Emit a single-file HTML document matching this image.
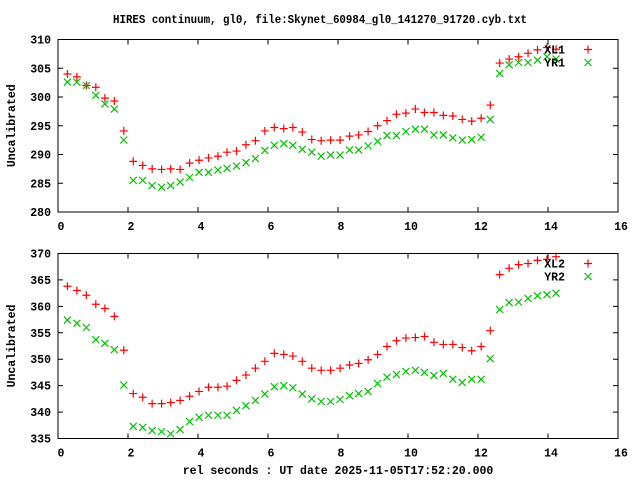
<!DOCTYPE html>
<html><head><meta charset="utf-8"><style>
body{margin:0;background:#fff}
svg{display:block}
text{font-family:"Liberation Mono",monospace;font-weight:bold;font-size:11.5px;fill:#000}
</style></head><body>
<svg id="chart" width="640" height="480" viewBox="0 0 640 480" xmlns="http://www.w3.org/2000/svg">
<text x="320" y="23" text-anchor="middle" textLength="414" lengthAdjust="spacingAndGlyphs">HIRES continuum, gl0, file:Skynet_60984_gl0_141270_91720.cyb.txt</text>
<text x="338" y="474" text-anchor="middle">rel seconds : UT date 2025-11-05T17:52:20.000</text>
</svg>
<script>
const times=[0.27,0.54,0.81,1.08,1.34,1.61,1.88,2.15,2.42,2.69,2.96,3.22,3.49,3.76,4.03,4.30,4.57,4.83,5.10,5.37,5.64,5.91,6.18,6.45,6.71,6.98,7.25,7.52,7.79,8.06,8.33,8.59,8.86,9.13,9.40,9.67,9.94,10.21,10.47,10.74,11.01,11.28,11.55,11.82,12.09,12.35,12.62,12.89,13.16,13.43,13.70,13.97,14.23];
const xl1=[304.0,303.5,302.0,301.7,299.8,299.3,294.1,288.8,288.1,287.5,287.4,287.5,287.4,288.5,289.0,289.4,289.7,290.4,290.6,291.7,292.4,294.1,294.7,294.5,294.7,293.9,292.6,292.4,292.5,292.5,293.2,293.4,294.0,295.0,295.9,297.0,297.2,297.9,297.3,297.3,296.8,296.7,296.1,295.8,296.3,298.6,305.9,306.6,307.0,307.6,308.2,308.6,308.3];
const yr1=[302.6,302.6,302.0,300.3,298.8,297.9,292.5,285.5,285.5,284.6,284.3,284.6,285.2,286.0,286.9,286.9,287.3,287.6,288.0,288.6,289.3,290.7,291.6,291.9,291.6,290.9,290.4,289.7,289.9,289.9,290.8,290.8,291.5,292.3,293.3,293.3,294.0,294.4,294.4,293.4,293.4,292.9,292.5,292.6,293.0,296.1,304.1,305.6,306.0,306.0,306.4,307.0,306.6];
const xl2=[363.8,363.0,362.1,360.4,359.6,358.1,351.7,343.5,342.8,341.6,341.6,341.8,342.2,343.0,343.9,344.7,344.7,344.9,346.0,347.0,348.3,349.6,351.1,350.9,350.6,349.6,348.3,347.9,347.9,348.3,348.9,349.2,349.9,350.9,352.4,353.5,354.0,354.1,354.3,353.2,352.8,352.8,352.2,351.6,352.4,355.4,366.0,367.2,367.9,368.1,368.7,368.9,369.4];
const yr2=[357.4,356.8,356.0,353.7,353.0,351.8,345.1,337.3,337.1,336.5,336.3,335.9,336.7,338.2,339.0,339.4,339.4,339.4,340.3,341.2,342.2,343.4,344.8,345.0,344.6,343.4,342.5,342.0,342.0,342.4,343.1,343.5,343.9,345.4,346.6,347.1,347.7,347.9,347.5,346.9,347.3,346.2,345.6,346.2,346.2,350.1,359.4,360.7,360.8,361.5,362.0,362.2,362.5];
const xTicks=[0,2,4,6,8,10,12,14,16];
const yTicks1=[280,285,290,295,300,305,310];
const yTicks2=[335,340,345,350,355,360,365,370];

const svg=document.getElementById('chart');
const NS='http://www.w3.org/2000/svg';
function mk(tag,attrs){const e=document.createElementNS(NS,tag);for(const k in attrs)e.setAttribute(k,attrs[k]);svg.appendChild(e);return e;}
const L=58,R=618;
function xs(v){return L+(v-0)/(16-0)*(R-L);}

function panel(top,bottom,ymin,ymax,yTicks,s1,s2,n1,n2,pid){
  const ys=v=>bottom-(v-ymin)/(ymax-ymin)*(bottom-top);
  const fr=mk('rect',{x:L,y:top,width:R-L,height:bottom-top,fill:'none',stroke:'#000','stroke-width':1});
  
  
  yTicks.forEach(v=>{
    const y=ys(v);
    const t=mk('path',{d:`M${L},${y}h5M${R},${y}h-5`,stroke:'#000','stroke-width':1});
    
    
    const tx=mk('text',{x:51,y:y+4,'text-anchor':'end'});tx.textContent=v;
    
    
  });
  xTicks.forEach(v=>{
    const x=xs(v);
    const t=mk('path',{d:`M${x},${bottom}v-5M${x},${top}v5`,stroke:'#000','stroke-width':1});
    
    
    const tx=mk('text',{x:x+3,y:bottom+18,'text-anchor':'middle'});tx.textContent=v;
    
    
  });
  const yl=mk('text',{x:15,y:(top+bottom)/2,'text-anchor':'middle',transform:`rotate(-90 15 ${(top+bottom)/2})`});
  yl.textContent='Uncalibrated';
  
  
  const plus=(x,y)=>`M${x-4},${y}h8M${x},${y-4}v8`;
  const cross=(x,y)=>`M${x-3.5},${y-3.5}l7,7M${x-3.5},${y+3.5}l7,-7`;
  times.forEach((t,i)=>{
    const p=mk('path',{d:plus(xs(t),ys(s1[i])),stroke:'#ff0000','stroke-width':1.2});
    
    
    const q=mk('path',{d:cross(xs(t),ys(s2[i])),stroke:'#00c000','stroke-width':1.2});
    
    
  });
  const l1=mk('text',{x:565,y:top+14,'text-anchor':'end'});l1.textContent=n1;
  
  
  const m1=mk('path',{d:plus(588,top+10),stroke:'#ff0000','stroke-width':1.2});
  
  
  const l2=mk('text',{x:565,y:top+27,'text-anchor':'end'});l2.textContent=n2;
  
  
  const m2=mk('path',{d:cross(588,top+23),stroke:'#00c000','stroke-width':1.2});
  
  
}
panel(39.5,212,280,310,yTicks1,xl1,yr1,'XL1','YR1','top');
panel(253.5,438.5,335,370,yTicks2,xl2,yr2,'XL2','YR2','bottom');
</script>
</body></html>
